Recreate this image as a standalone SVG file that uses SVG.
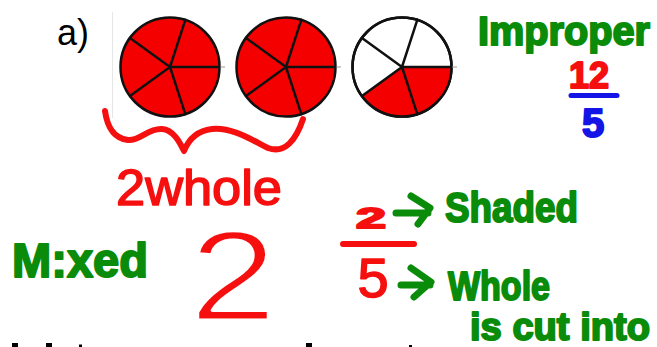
<svg xmlns="http://www.w3.org/2000/svg" width="657" height="347" viewBox="0 0 657 347">
<style>
.pie{stroke:#111;stroke-width:2.5;}
.sp{stroke:#111;stroke-width:2.5;fill:none;stroke-linecap:round;}
.g{fill:#0a8c0a;stroke:#0a8c0a;stroke-width:2;stroke-linejoin:round;font-family:"Liberation Sans",Arial,sans-serif;font-weight:bold;}
.r{fill:#f5100f;stroke:#f5100f;stroke-width:1.5;stroke-linejoin:round;font-family:"Liberation Sans",Arial,sans-serif;}
.rb{fill:#f5100f;stroke:#f5100f;stroke-width:2;stroke-linejoin:round;font-family:"Liberation Sans",Arial,sans-serif;font-weight:bold;}
.bl{fill:#1414e6;stroke:#1414e6;stroke-width:2;stroke-linejoin:round;font-family:"Liberation Sans",Arial,sans-serif;font-weight:bold;}
.pen{fill:none;stroke-linecap:round;stroke-linejoin:round;}
</style>
<defs>
<g id="spokes">
<path class="sp" d="M0,0 H49.5 M0,0 L15.3,-47.1 M0,0 L-40.05,-29.1 M0,0 L-40.05,29.1 M0,0 L15.3,47.1"/>
<path d="M50.5,0 H55" stroke="#bbb" stroke-width="1.5"/>
</g>
</defs>
<rect width="657" height="347" fill="#fff"/>
<line x1="112.5" y1="12" x2="112.5" y2="118" stroke="#e6e6e6" stroke-width="1"/>
<g id="label-a"><text x="57" y="45" font-family="Liberation Sans, Arial, sans-serif" font-size="36" fill="#000">a)</text></g>
<g id="pie1" transform="translate(170,67)">
<circle r="49.5" fill="#f50000" class="pie"/>
<use href="#spokes"/>
</g>
<g id="pie2" transform="translate(286,67)">
<circle r="49.5" fill="#f50000" class="pie"/>
<use href="#spokes"/>
</g>
<g id="pie3" transform="translate(402,67)">
<circle r="49.5" fill="#fff" class="pie"/>
<path d="M0,0 L-40.05,29.1 A49.5,49.5 0 0 0 49.5,0 Z" fill="#f50000"/>
<circle r="49.5" fill="none" class="pie"/>
<use href="#spokes"/>
</g>
<g id="brace">
<path class="pen" stroke="#f5100f" stroke-width="6" d="M105,111 C107,125 112,138 128,140 C140,141 148,128 162,129 C174,130 180,143 184,151 C188,141 195,131 212,129 C232,127 252,140 268,148 C285,154 296,140 303,119"/>
</g>
<g id="improper">
<text class="g" x="478" y="45" font-size="40" textLength="172" lengthAdjust="spacingAndGlyphs">Improper</text>
<text class="rb" x="589" y="88" font-size="36" text-anchor="middle">12</text>
<path class="pen" stroke="#1414e6" stroke-width="5" d="M571,95.5 H617"/>
<text class="bl" x="593" y="137" font-size="40" text-anchor="middle">5</text>
</g>
<g id="two-whole">
<text class="r" x="116" y="205" font-size="50" textLength="166" lengthAdjust="spacingAndGlyphs">2whole</text>
</g>
<g id="mixed">
<text class="g" x="12" y="277" font-size="48" textLength="136" lengthAdjust="spacingAndGlyphs">M:xed</text>
<text x="233" y="320" font-size="128" text-anchor="middle" textLength="87" lengthAdjust="spacingAndGlyphs" font-family="Liberation Sans, Arial, sans-serif" fill="#f5100f" stroke="#fff" stroke-width="3" stroke-linejoin="round">2</text>
</g>
<g id="fraction">
<text class="rb" x="371" y="228" font-size="30" text-anchor="middle" textLength="30" lengthAdjust="spacingAndGlyphs">2</text>
<path class="pen" stroke="#f5100f" stroke-width="6" d="M343,244 H414"/>
<text class="r" x="373" y="297" font-size="56" text-anchor="middle">5</text>
</g>
<g id="connectors">
<path class="pen" stroke="#0a8c0a" stroke-width="7" d="M396,213 H428 M411,196 L430,208 L418,224"/>
<path class="pen" stroke="#0a8c0a" stroke-width="7" d="M401,285 H430 M411,268 L431,282 L414,297"/>
</g>
<g id="shaded"><text class="g" x="445" y="222" font-size="42" textLength="133" lengthAdjust="spacingAndGlyphs">Shaded</text></g>
<g id="whole"><text class="g" x="448" y="300" font-size="40" textLength="102" lengthAdjust="spacingAndGlyphs">Whole</text></g>
<g id="cut-into"><text class="g" x="470" y="340" font-size="38" textLength="180" lengthAdjust="spacingAndGlyphs">is cut into</text></g>
<g id="bottom-cut" fill="#000">
<rect x="12" y="343" width="6" height="4"/>
<rect x="46" y="343" width="6" height="4"/>
<rect x="79" y="344.5" width="3" height="2.5"/>
<rect x="306" y="343" width="6" height="4"/>
<rect x="409" y="345" width="3" height="2"/>
</g>
</svg>
